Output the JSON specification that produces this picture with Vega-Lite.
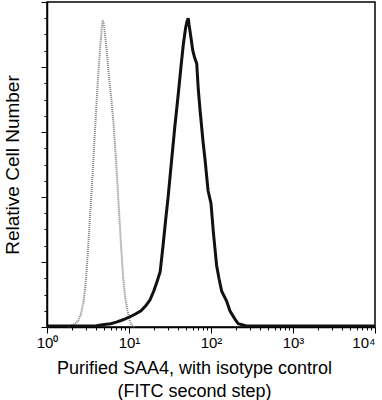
{
  "$schema": "https://vega.github.io/schema/vega-lite/v6.json",
  "width": 328,
  "height": 325,
  "autosize": "none",
  "padding": {"left": 47, "top": 2, "right": 7, "bottom": 73},
  "background": "white",
  "config": {
    "view": {"stroke": "black", "strokeWidth": 1.5},
    "font": "Liberation Sans",
    "axis": {"grid": false, "domainColor": "black", "domainWidth": 1.5, "tickColor": "black", "labelColor": "black", "titleColor": "black", "titleFontWeight": "normal"}
  },
  "datasets": {
    "isotype": [
      {"x": 1.8, "y": 0}, {"x": 2.0, "y": 0.5}, {"x": 2.2, "y": 1}, {"x": 2.4, "y": 2}, {"x": 2.6, "y": 4}, {"x": 2.8, "y": 8}, {"x": 3.0, "y": 15}, {"x": 3.2, "y": 26}, {"x": 3.4, "y": 37}, {"x": 3.6, "y": 47}, {"x": 3.8, "y": 58}, {"x": 4.0, "y": 68}, {"x": 4.2, "y": 77}, {"x": 4.45, "y": 86}, {"x": 4.65, "y": 92}, {"x": 4.8, "y": 94.5}, {"x": 5.0, "y": 92}, {"x": 5.3, "y": 86}, {"x": 5.7, "y": 77}, {"x": 6.1, "y": 70}, {"x": 6.5, "y": 62}, {"x": 7.0, "y": 50}, {"x": 7.5, "y": 37}, {"x": 8.0, "y": 25}, {"x": 8.5, "y": 15}, {"x": 9.0, "y": 9}, {"x": 9.6, "y": 5}, {"x": 10.2, "y": 2}, {"x": 10.8, "y": 0.5}, {"x": 11.5, "y": 0}
    ],
    "saa4": [
      {"x": 1, "y": 0.3}, {"x": 2, "y": 0.3}, {"x": 4, "y": 0.4}, {"x": 5, "y": 0.8}, {"x": 6, "y": 1}, {"x": 7, "y": 1.5}, {"x": 8, "y": 2}, {"x": 9, "y": 2.5}, {"x": 10, "y": 3}, {"x": 12, "y": 4}, {"x": 14, "y": 5}, {"x": 16, "y": 6.5}, {"x": 18, "y": 8.3}, {"x": 20, "y": 11}, {"x": 22, "y": 14}, {"x": 24, "y": 17}, {"x": 26, "y": 25}, {"x": 28, "y": 33}, {"x": 30, "y": 40}, {"x": 33, "y": 51}, {"x": 36, "y": 61}, {"x": 40, "y": 72}, {"x": 43, "y": 80}, {"x": 46, "y": 87}, {"x": 49, "y": 92}, {"x": 51, "y": 94}, {"x": 52.8, "y": 95}, {"x": 54, "y": 93}, {"x": 57, "y": 89}, {"x": 60, "y": 85}, {"x": 63, "y": 83}, {"x": 67, "y": 81}, {"x": 70, "y": 73}, {"x": 74, "y": 66}, {"x": 80, "y": 57}, {"x": 85, "y": 51}, {"x": 92, "y": 42}, {"x": 100, "y": 38}, {"x": 107, "y": 29}, {"x": 117, "y": 19}, {"x": 125, "y": 15}, {"x": 135, "y": 11}, {"x": 155, "y": 8}, {"x": 170, "y": 5}, {"x": 195, "y": 2.5}, {"x": 215, "y": 1}, {"x": 270, "y": 0.3}, {"x": 1000, "y": 0.3}, {"x": 10000, "y": 0.3}
    ]
  },
  "encoding": {
    "x": {
      "field": "x", "type": "quantitative",
      "scale": {"type": "log", "domain": [1, 10000], "nice": false},
      "axis": {
        "title": ["Purified SAA4, with isotype control", "(FITC second step)"],
        "titleFontSize": 18,
        "titleLineHeight": 23,
        "titlePadding": 9,
        "titleX": 147,
        "values": [1,2,3,4,5,6,7,8,9,10,20,30,40,50,60,70,80,90,100,200,300,400,500,600,700,800,900,1000,2000,3000,4000,5000,6000,7000,8000,9000,10000],
        "labelExpr": "datum.value == 1 ? '10⁰' : datum.value == 10 ? '10¹' : datum.value == 100 ? '10²' : datum.value == 1000 ? '10³' : datum.value == 10000 ? '10⁴' : ''",
        "labelOverlap": false,
        "labelFlush": false,
        "labelFontSize": 15,
        "labelPadding": 2,
        "labelAlign": {"condition": {"test": "datum.value == 10000", "value": "right"}, "value": "center"},
        "tickSize": {"condition": {"test": "indexof([1,10,100,1000,10000], datum.value) >= 0", "value": 6}, "value": 3},
        "tickWidth": 1
      }
    },
    "y": {
      "field": "y", "type": "quantitative",
      "scale": {"domain": [0, 100], "nice": false},
      "axis": {
        "title": "Relative Cell Number",
        "titleFontSize": 19,
        "titlePadding": 18,
        "labels": false,
        "values": [0,5,10,15,20,25,30,35,40,45,50,55,60,65,70,75,80,85,90,95,100],
        "tickSize": {"condition": {"test": "datum.value % 20 == 0", "value": 6}, "value": 3},
        "tickWidth": 1
      }
    }
  },
  "layer": [
    {
      "data": {"name": "isotype"},
      "mark": {"type": "line", "color": "#808080", "strokeWidth": 2, "strokeDash": [1, 1]}
    },
    {
      "data": {"name": "saa4"},
      "mark": {"type": "line", "color": "#111111", "strokeWidth": 3}
    }
  ]
}
